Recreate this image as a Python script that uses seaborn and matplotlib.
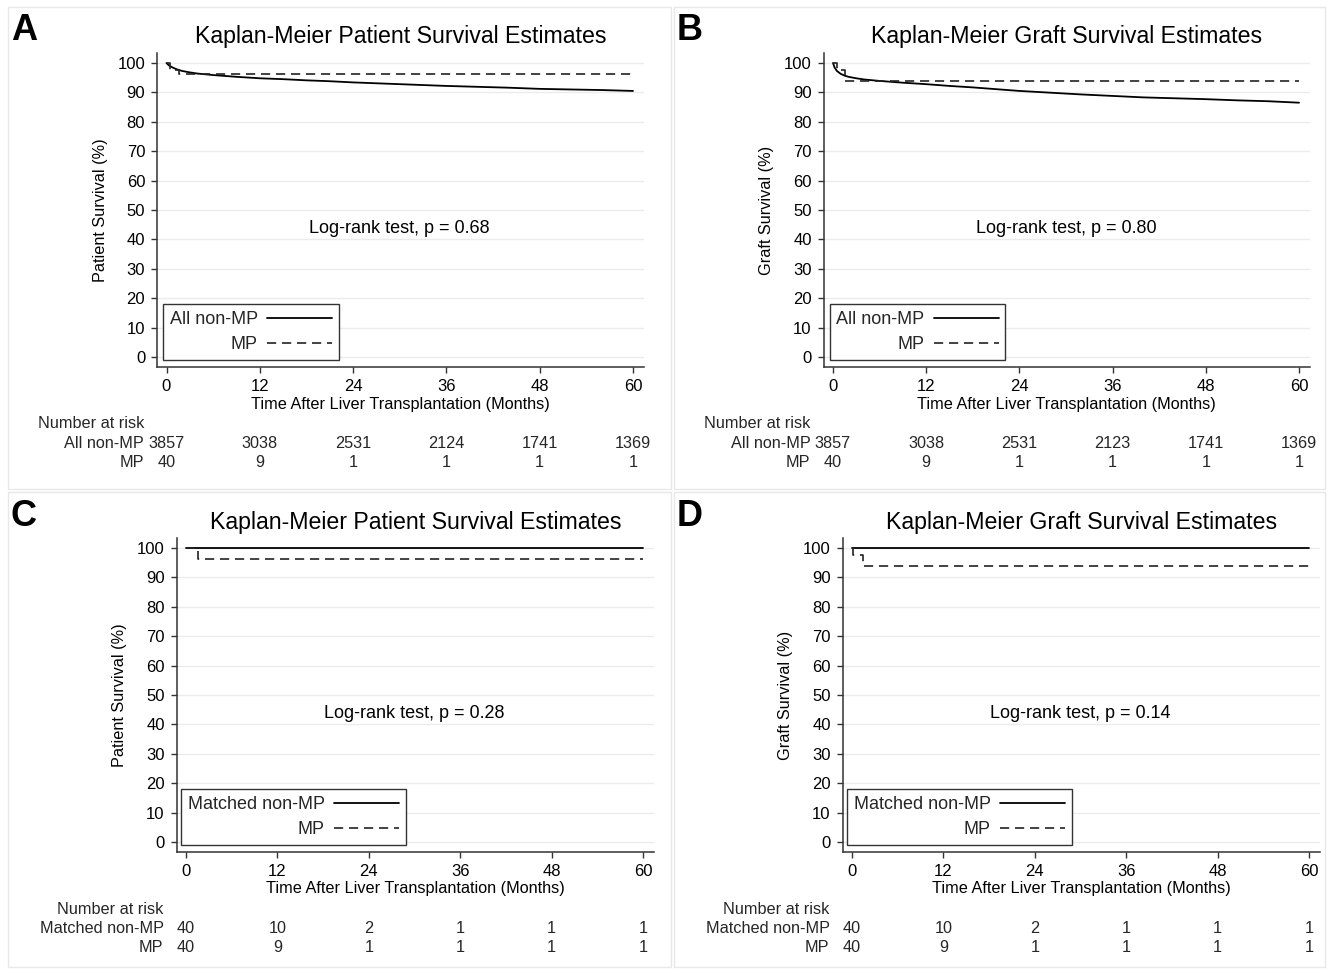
import numpy as np
import pandas as pd
import matplotlib
matplotlib.use("Agg")
import matplotlib.pyplot as plt
import matplotlib.patches as mpatches
import matplotlib.transforms as mtransforms
import seaborn as sns

sns.set_theme(style="white")
plt.rcParams['font.family'] = ['Liberation Sans', 'DejaVu Sans']

# ---------------- data ----------------
# Panel A: patient survival, all non-MP vs MP
a_nonmp_t = [0, 0.3, 0.7, 1, 1.5, 2, 3, 4, 6, 9, 12, 15, 18, 21, 24, 28, 32, 36, 40, 44, 48, 52, 56, 60]
a_nonmp_s = [100, 99.2, 98.6, 98.2, 97.7, 97.3, 96.8, 96.4, 95.9, 95.3, 94.8, 94.5, 94.1, 93.8, 93.4,
             93.0, 92.6, 92.2, 91.9, 91.6, 91.2, 91.0, 90.8, 90.5]
a_mp_t = [0, 0.4, 1.6, 60]
a_mp_s = [100, 97.5, 96.2, 96.2]

# Panel B: graft survival, all non-MP vs MP
b_nonmp_t = [0, 0.2, 0.5, 1, 1.5, 2, 3, 4, 6, 9, 12, 15, 18, 21, 24, 28, 32, 36, 40, 44, 48, 52, 56, 60]
b_nonmp_s = [100, 98.5, 97.3, 96.3, 95.7, 95.3, 94.8, 94.4, 93.9, 93.3, 92.8, 92.2, 91.7, 91.1, 90.5,
             89.9, 89.3, 88.8, 88.3, 88.0, 87.7, 87.3, 87.0, 86.5]
b_mp_t = [0, 0.5, 1.5, 60]
b_mp_s = [100, 97.5, 93.8, 93.8]

# Panel C: patient survival, matched non-MP vs MP
c_nonmp_t = [0, 60]
c_nonmp_s = [100, 100]
c_mp_t = [0, 1.6, 60]
c_mp_s = [100, 96.2, 96.2]

# Panel D: graft survival, matched non-MP vs MP
d_nonmp_t = [0, 60]
d_nonmp_s = [100, 100]
d_mp_t = [0, 0.1, 1.4, 60]
d_mp_s = [100, 97.5, 93.8, 93.8]

risk_times = [0, 12, 24, 36, 48, 60]
a_risk_nonmp = [3857, 3038, 2531, 2124, 1741, 1369]
a_risk_mp = [40, 9, 1, 1, 1, 1]
b_risk_nonmp = [3857, 3038, 2531, 2123, 1741, 1369]
b_risk_mp = [40, 9, 1, 1, 1, 1]
c_risk_nonmp = [40, 10, 2, 1, 1, 1]
c_risk_mp = [40, 9, 1, 1, 1, 1]
d_risk_nonmp = [40, 10, 2, 1, 1, 1]
d_risk_mp = [40, 9, 1, 1, 1, 1]

letters = ["A", "B", "C", "D"]
titles = ["Kaplan-Meier Patient Survival Estimates", "Kaplan-Meier Graft Survival Estimates",
          "Kaplan-Meier Patient Survival Estimates", "Kaplan-Meier Graft Survival Estimates"]
ylabels = ["Patient Survival (%)", "Graft Survival (%)", "Patient Survival (%)", "Graft Survival (%)"]
pvalues = ["Log-rank test, p = 0.68", "Log-rank test, p = 0.80",
           "Log-rank test, p = 0.28", "Log-rank test, p = 0.14"]
group_nonmp = ["All non-MP", "All non-MP", "Matched non-MP", "Matched non-MP"]
group_mp = "MP"
xlabel = "Time After Liver Transplantation (Months)"
xticks = [0, 12, 24, 36, 48, 60]
yticks = list(range(0, 101, 10))

curves = [(a_nonmp_t, a_nonmp_s, a_mp_t, a_mp_s),
          (b_nonmp_t, b_nonmp_s, b_mp_t, b_mp_s),
          (c_nonmp_t, c_nonmp_s, c_mp_t, c_mp_s),
          (d_nonmp_t, d_nonmp_s, d_mp_t, d_mp_s)]
risks = [(a_risk_nonmp, a_risk_mp), (b_risk_nonmp, b_risk_mp),
         (c_risk_nonmp, c_risk_mp), (d_risk_nonmp, d_risk_mp)]

# ---------------- layout (pixels) ----------------
W, H = 1327, 969
panels = [  # x0, x60, y0, y100
    (166.5, 633, 357, 63),
    (833, 1299, 357, 63),
    (186, 643, 842, 548),
    (852, 1309, 842, 548),
]
boxes = [(8, 7, 671, 489), (674, 7, 1325, 489), (8, 492, 671, 967), (674, 492, 1325, 967)]

fig = plt.figure(figsize=(W / 100, H / 100), dpi=100)
fig.patch.set_facecolor("white")

for (bx0, by0, bx1, by1) in boxes:
    fig.add_artist(mpatches.Rectangle((bx0 / W, 1 - by1 / H), (bx1 - bx0) / W, (by1 - by0) / H,
                                      transform=fig.transFigure, fill=False,
                                      edgecolor="#e8e8e8", lw=1.0))

def fy(py):
    return 1 - py / H

for i, (x0, x60, y0, y100) in enumerate(panels):
    left, right = x0 - 9.5, x60 + 11
    bottom, top = y0 + 10, y100 - 10
    sx = (x60 - x0) / 60.0
    sy = (y0 - y100) / 100.0
    ax = fig.add_axes([left / W, fy(bottom), (right - left) / W, (bottom - top) / H])
    ax.set_facecolor("white")
    ax.set_xlim((left - x0) / sx, (right - x0) / sx)
    ax.set_ylim((y0 - bottom) / sy, (y0 - top) / sy)

    nt, ns, mt, ms = curves[i]
    df_n = pd.DataFrame({"t": nt, "s": ns})
    df_m = pd.DataFrame({"t": mt, "s": ms})
    # large cohorts: many tiny steps that read as a smooth curve
    n_style = "default" if len(nt) > 3 else "steps-post"
    sns.lineplot(data=df_n, x="t", y="s", ax=ax, color="black", lw=1.3,
                 drawstyle=n_style, estimator=None, sort=False, label=group_nonmp[i])
    sns.lineplot(data=df_m, x="t", y="s", ax=ax, color="#222222", lw=1.2,
                 drawstyle="steps-post", estimator=None, sort=False, label=group_mp)
    ax.lines[-1].set_dashes((5.5, 3.5))

    ax.set_xticks(xticks)
    ax.set_yticks(yticks)
    ax.set_xticklabels([str(v) for v in xticks])
    ax.set_yticklabels([str(v) for v in yticks])
    ax.grid(axis="y", color="#ebebeb", lw=1.0)
    ax.grid(axis="x", visible=False)
    ax.set_axisbelow(True)
    for side in ["top", "right"]:
        ax.spines[side].set_visible(False)
    for side in ["left", "bottom"]:
        ax.spines[side].set_color("#333333")
        ax.spines[side].set_linewidth(1.1)
    ax.tick_params(axis="both", which="major", direction="out", length=4.5, width=1.0,
                   color="#333333", labelsize=12, labelcolor="black", pad=4,
                   bottom=True, left=True)
    ax.set_xlabel("")
    ax.set_ylabel("")

    # legend
    lx = (163 - 166.5) / sx if i in (0, 1) else (181 - 186) / sx
    leg = ax.legend(loc="lower left", bbox_to_anchor=(lx, -1.0), bbox_transform=ax.transData,
                    markerfirst=False, frameon=True, fancybox=False, edgecolor="#333333",
                    borderaxespad=0, handlelength=3.6, handletextpad=0.5,
                    borderpad=0.38, labelspacing=0.45, fontsize=13)
    leg.get_frame().set_linewidth(1.0)
    leg.get_frame().set_facecolor("white")
    leg.get_frame().set_alpha(1)

    ax.text(30, 43.8, pvalues[i], ha="center", va="center", fontsize=13, color="black")

    # title, labels
    xc = (left + right) / 2 / W
    fig.text(xc, fy(y100 - 26), titles[i], ha="center", va="center", fontsize=16.7, color="black")
    fig.text(xc, fy(y0 + 47), xlabel, ha="center", va="center", fontsize=11.7, color="black")
    fig.text((left - 57) / W, fy((y0 + y100) / 2), ylabels[i], ha="center", va="center",
             rotation=90, fontsize=11.7, color="black")
    bx0, by0, _, _ = boxes[i]
    fig.text((bx0 + 3) / W, fy(by0 + 24), letters[i], ha="left", va="center",
             fontsize=26, fontweight="bold", color="black")

    # number at risk table
    tr = mtransforms.blended_transform_factory(ax.transData, fig.transFigure)
    lab_x = (x0 - 22.5) / W
    fig.text(lab_x, fy(y0 + 67), "Number at risk", ha="right", va="center", fontsize=11.7)
    fig.text(lab_x, fy(y0 + 86.5), group_nonmp[i], ha="right", va="center", fontsize=11.7)
    fig.text(lab_x, fy(y0 + 105.5), group_mp, ha="right", va="center", fontsize=11.7)
    rn, rm = risks[i]
    for t, n1, n2 in zip(risk_times, rn, rm):
        ax.text(t, fy(y0 + 86.5), str(n1), transform=tr, ha="center", va="center",
                fontsize=11.7, clip_on=False)
        ax.text(t, fy(y0 + 105.5), str(n2), transform=tr, ha="center", va="center",
                fontsize=11.7, clip_on=False)

fig.savefig("out.png", dpi=100, facecolor="white")
